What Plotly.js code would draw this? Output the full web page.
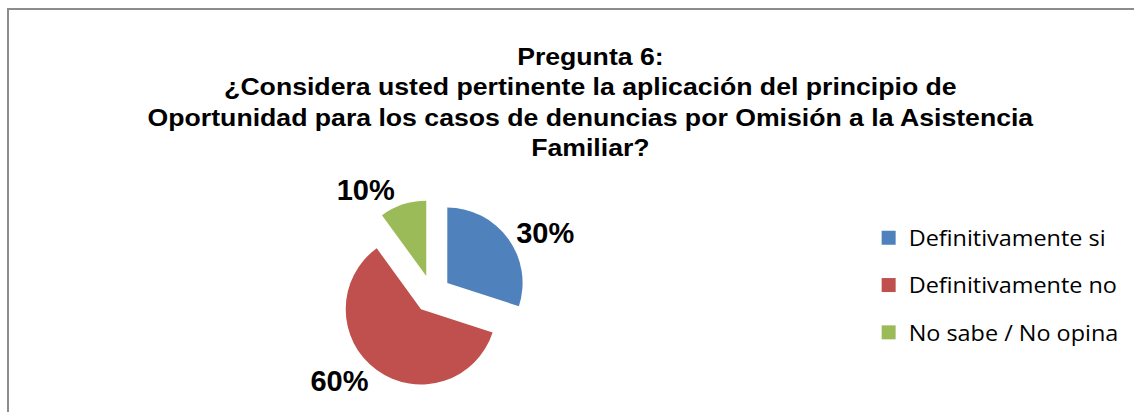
<!DOCTYPE html>
<html>
<head>
<meta charset="utf-8">
<script src="https://cdn.plot.ly/plotly-3.0.1.min.js"></script>
<style>
  html, body { margin: 0; padding: 0; background: #ffffff; }
  #wrap { position: relative; width: 1134px; height: 412px; overflow: hidden; }
  #frame { position: absolute; left: 7px; top: 8px; width: 1140px; height: 420px;
           border-left: 2px solid #8c8c8c; border-top: 2px solid #8c8c8c; pointer-events: none; }
  /* the original chart is stretched sideways a little */
  #pie-chart .gtitle { transform-box: fill-box; transform-origin: center; transform: scaleX(1.134); }
  #pie-chart .legendtext { transform-box: fill-box; transform-origin: left; transform: scaleX(1.115); }
  #pie-chart .legend .scrollbox { clip-path: none; }
</style>
</head>
<body>
<div id="wrap">
  <div id="pie-chart"></div>
  <div id="frame"></div>
</div>
<script>
// Pregunta 6 - pie chart
var categories = ['Definitivamente si', 'Definitivamente no', 'No sabe / No opina'];
var values = [30, 60, 10];
var sliceColors = ['#4F81BD', '#C0504D', '#9BBB59'];

var data = [{
  type: 'pie',
  labels: categories,
  values: values,
  sort: false,
  direction: 'clockwise',
  rotation: 0,
  pull: [0.25, 0.25, 0.25],
  marker: {colors: sliceColors, line: {width: 0}},
  textinfo: 'percent',
  textposition: 'outside',
  outsidetextfont: {family: 'Liberation Sans, Arial, sans-serif', size: 29, color: '#000000', weight: 'bold'},
  hoverinfo: 'label+percent',
  showlegend: false,
  domain: {x: [0.298, 0.464], y: [0.058, 0.515]}
}];

// legend entries (one per category, so the gap between them can be set)
categories.forEach(function(cat, i) {
  data.push({
    type: 'scatter',
    mode: 'markers',
    x: [null],
    y: [null],
    name: cat,
    legendgroup: 'g' + i,
    marker: {symbol: 'square', size: 14, color: sliceColors[i]},
    hoverinfo: 'skip'
  });
});

var layout = {
  width: 1134,
  height: 412,
  margin: {l: 0, r: 0, t: 0, b: 0},
  paper_bgcolor: 'rgba(0,0,0,0)',
  plot_bgcolor: 'rgba(0,0,0,0)',
  xaxis: {visible: false},
  yaxis: {visible: false},
  title: {
    text: 'Pregunta 6:<br>¿Considera usted pertinente la aplicación del principio de<br>Oportunidad para los casos de denuncias por Omisión a la Asistencia<br>Familiar?',
    font: {family: 'Liberation Sans, Arial, sans-serif', size: 23.5, color: '#000000', weight: 'bold'},
    x: 0.5207,
    xanchor: 'center',
    xref: 'container',
    y: 0.843,
    yanchor: 'top',
    yref: 'container'
  },
  showlegend: true,
  legend: {
    x: 0.766,
    xanchor: 'left',
    y: 0.308,
    yanchor: 'middle',
    tracegroupgap: 17,
    font: {family: 'Open Sans, sans-serif', size: 21, color: '#000000'}
  }
};

Plotly.newPlot('pie-chart', data, layout, {displayModeBar: false});
</script>
</body>
</html>
